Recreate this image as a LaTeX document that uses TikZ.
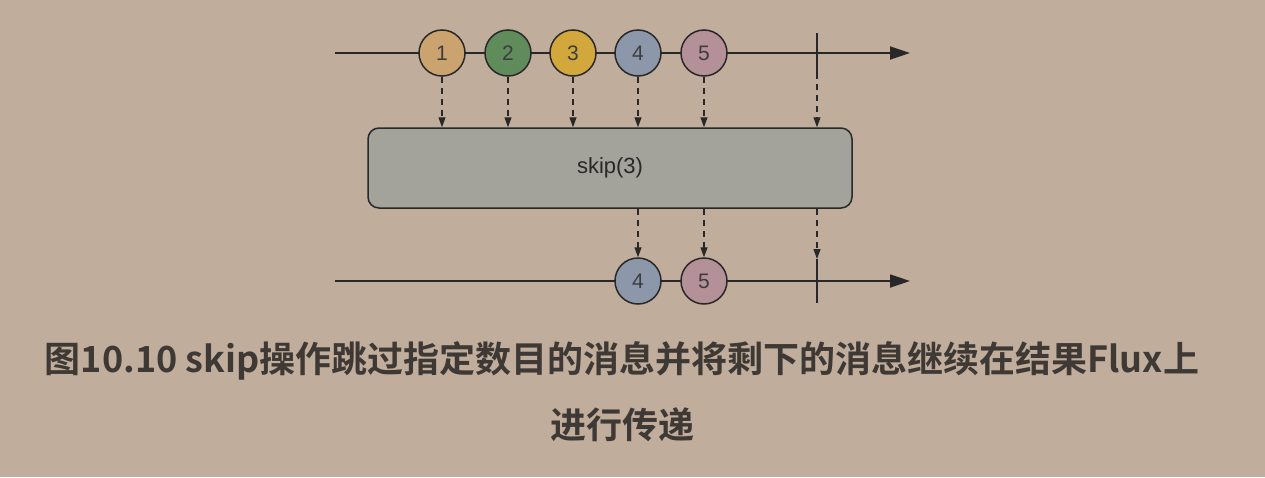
\documentclass[tikz,border=0pt]{standalone}
\usepackage{fontspec}
\setmainfont{Liberation Sans}
\newfontfamily\cjk{Noto Sans CJK SC}[BoldFont={Noto Sans CJK SC Bold}]
\usetikzlibrary{arrows.meta}
\definecolor{bg}{RGB}{192,173,156}
\definecolor{ink}{RGB}{40,40,40}
\definecolor{capink}{RGB}{62,57,52}
\definecolor{cA}{RGB}{203,163,110}
\definecolor{cB}{RGB}{96,140,92}
\definecolor{cC}{RGB}{210,168,60}
\definecolor{cD}{RGB}{140,152,170}
\definecolor{cE}{RGB}{180,144,152}
\definecolor{boxfill}{RGB}{163,162,155}
\tikzset{
  marble/.style={circle,draw=ink,line width=1.5pt,minimum size=46pt,inner sep=0pt,font=\fontsize{21}{21}\selectfont,text=ink!90},
  timeline/.style={draw=ink,line width=1.8pt,-{Triangle[length=20pt,width=13pt]}},
  flow/.style={draw=ink,line width=1.3pt,dash pattern=on 6pt off 5pt,-{Triangle[length=10pt,width=7pt]}},
  endmark/.style={draw=ink,line width=2.6pt},
  opbox/.style={draw=ink,line width=1.5pt,fill=boxfill,rounded corners=11pt,minimum width=484pt,minimum height=80pt,font=\fontsize{22}{22}\selectfont,text=ink},
  caption/.style={font=\cjk\bfseries\fontsize{36}{36}\selectfont,text=capink}
}
\begin{document}
\begin{tikzpicture}[x=1pt,y=-1pt]
\fill[bg] (0,0) rectangle (1265,477);
\useasboundingbox (0,0) rectangle (1265,477);
% top timeline
\coordinate (tl) at (335,53);
\coordinate (tr) at (910,53);
\draw[timeline] (tl) -- (tr);
\node[marble,fill=cA] (c1) at (442,53) {1};
\node[marble,fill=cB] (c2) at (508,53) {2};
\node[marble,fill=cC] (c3) at (573,53) {3};
\node[marble,fill=cD] (c4) at (638,53) {4};
\node[marble,fill=cE] (c5) at (704,53) {5};
\coordinate (et) at (817,33);
\coordinate (eb) at (817,73);
\draw[endmark] (et) -- (eb);
% operator box
\node[opbox] (op) at (610,168) {skip(3)};
\foreach \c in {c1,c2,c3,c4,c5} \draw[flow] (\c.south) -- (\c.south |- op.north);
\draw[flow] (eb) -- (eb |- op.north);
% bottom timeline
\coordinate (bl) at (335,281);
\coordinate (br) at (910,281);
\draw[timeline] (bl) -- (br);
\node[marble,fill=cD] (d4) at (638,281) {4};
\node[marble,fill=cE] (d5) at (704,281) {5};
\coordinate (ft) at (817,259);
\coordinate (fb) at (817,303);
\draw[endmark] (ft) -- (fb);
\draw[flow] (op.south -| d4) -- (d4.north);
\draw[flow] (op.south -| d5) -- (d5.north);
\draw[flow] (op.south -| ft) -- (ft);
% caption
\node[caption] (cap1) at (622,361) {图10.10 skip操作跳过指定数目的消息并将剩下的消息继续在结果Flux上};
\node[caption] (cap2) at (622,425) {进行传递};
\end{tikzpicture}
\end{document}
